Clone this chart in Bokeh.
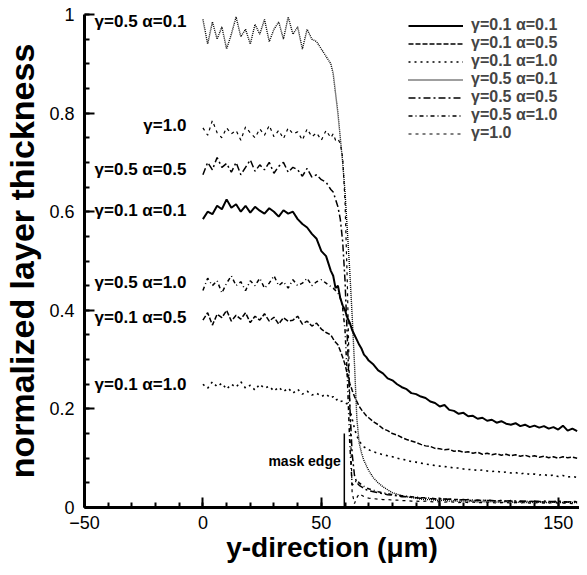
from bokeh.plotting import figure
from bokeh.models import (Range1d, SingleIntervalTicker, Legend, LegendItem,
                          CustomJSTickFormatter, Label)
from bokeh.core.properties import value
from bokeh.embed import file_html
from bokeh.resources import INLINE

# ---------------- data ----------------
X_PLATEAU = [0, 2, 4, 6, 8, 10, 12, 14, 16, 18, 20, 22, 24, 26, 28, 30, 32, 34,
             36, 38, 40, 42, 44, 46, 48, 50, 52, 54]
X_EDGE = [55, 56, 57, 58, 59, 60, 61, 62, 63, 64, 65, 66, 67, 68, 69, 70]
X_TAIL = [72, 74, 76, 78, 80, 82, 84, 86, 88, 90,
          92, 94, 96, 98, 100, 102, 104, 106, 108, 110,
          112, 114, 116, 118, 120, 122, 124, 126, 128, 130,
          132, 134, 136, 138, 140, 142, 144, 146, 148, 150,
          152, 154, 156, 158]

# gamma=0.1 alpha=0.1
g01_a01 = ([0.585, 0.60, 0.595, 0.612, 0.605, 0.625, 0.608, 0.615, 0.60, 0.612,
            0.598, 0.61, 0.602, 0.596, 0.607, 0.60, 0.59, 0.603, 0.596, 0.60,
            0.585, 0.575, 0.568, 0.555, 0.545, 0.52, 0.51, 0.48]
           + [0.47, 0.445, 0.45, 0.425, 0.41, 0.40, 0.385, 0.375, 0.36, 0.35,
              0.34, 0.33, 0.322, 0.31, 0.305, 0.298]
           + [0.29, 0.278, 0.272, 0.262, 0.258, 0.25, 0.244, 0.24, 0.232, 0.23,
              0.225, 0.222, 0.215, 0.212, 0.205, 0.208, 0.198, 0.196, 0.19, 0.192,
              0.185, 0.186, 0.18, 0.182, 0.176, 0.178, 0.172, 0.175, 0.17, 0.168,
              0.171, 0.165, 0.168, 0.163, 0.166, 0.162, 0.165, 0.16, 0.163, 0.158,
              0.166, 0.156, 0.16, 0.155])

# gamma=0.1 alpha=0.5
g01_a05 = ([0.38, 0.395, 0.37, 0.392, 0.385, 0.40, 0.378, 0.39, 0.382, 0.395,
            0.375, 0.388, 0.38, 0.393, 0.378, 0.386, 0.372, 0.385, 0.378, 0.38,
            0.388, 0.372, 0.378, 0.368, 0.374, 0.362, 0.355, 0.35]
           + [0.342, 0.335, 0.33, 0.318, 0.305, 0.29, 0.27, 0.252, 0.238, 0.225,
              0.215, 0.205, 0.198, 0.192, 0.186, 0.182]
           + [0.174, 0.168, 0.16, 0.156, 0.15, 0.147, 0.142, 0.138, 0.135, 0.132,
              0.128, 0.125, 0.124, 0.12, 0.119, 0.117, 0.118, 0.114, 0.115, 0.112,
              0.113, 0.11, 0.112, 0.108, 0.11, 0.107, 0.109, 0.106, 0.108, 0.105,
              0.107, 0.104, 0.106, 0.103, 0.105, 0.102, 0.104, 0.101, 0.103, 0.10,
              0.103, 0.101, 0.102, 0.10])

# gamma=0.1 alpha=1.0
g01_a10 = ([0.25, 0.242, 0.255, 0.245, 0.252, 0.24, 0.25, 0.244, 0.255, 0.242,
            0.248, 0.238, 0.25, 0.242, 0.246, 0.236, 0.244, 0.235, 0.242, 0.232,
            0.24, 0.23, 0.236, 0.228, 0.232, 0.225, 0.23, 0.222]
           + [0.225, 0.218, 0.22, 0.215, 0.216, 0.212, 0.21, 0.20, 0.18, 0.16,
              0.145, 0.135, 0.128, 0.123, 0.12, 0.117]
           + [0.113, 0.11, 0.107, 0.105, 0.103, 0.10, 0.098, 0.096, 0.093, 0.092,
              0.09, 0.088, 0.087, 0.085, 0.084, 0.083, 0.082, 0.08, 0.08, 0.078,
              0.077, 0.077, 0.075, 0.076, 0.074, 0.073, 0.074, 0.071, 0.072, 0.07,
              0.071, 0.068, 0.07, 0.067, 0.068, 0.066, 0.067, 0.064, 0.066, 0.063,
              0.065, 0.062, 0.063, 0.061])

# gamma=0.5 alpha=0.1
g05_a01 = ([0.99, 0.94, 0.985, 0.95, 0.975, 0.93, 0.96, 0.995, 0.955, 0.97,
            0.94, 0.98, 0.96, 0.99, 0.945, 0.97, 0.985, 0.95, 0.995, 0.96,
            0.975, 0.93, 0.97, 0.95, 0.945, 0.93, 0.915, 0.90]
           + [0.88, 0.84, 0.80, 0.75, 0.70, 0.64, 0.56, 0.48, 0.39, 0.29,
              0.18, 0.13, 0.11, 0.095, 0.085, 0.075]
           + [0.06, 0.05, 0.042, 0.036, 0.03, 0.027, 0.024, 0.022, 0.02, 0.019,
              0.017, 0.016, 0.016, 0.015, 0.014, 0.015, 0.013, 0.014, 0.012, 0.013,
              0.012, 0.013, 0.011, 0.012, 0.011, 0.012, 0.011, 0.01, 0.012, 0.011,
              0.01, 0.011, 0.01, 0.011, 0.01, 0.011, 0.01, 0.01, 0.011, 0.01,
              0.01, 0.011, 0.01, 0.01])

# gamma=0.5 alpha=0.5
g05_a05 = ([0.675, 0.70, 0.685, 0.71, 0.69, 0.698, 0.68, 0.70, 0.675, 0.69,
            0.705, 0.682, 0.695, 0.685, 0.70, 0.678, 0.692, 0.70, 0.68, 0.69,
            0.685, 0.672, 0.688, 0.67, 0.675, 0.665, 0.66, 0.645]
           + [0.64, 0.625, 0.61, 0.585, 0.54, 0.46, 0.34, 0.21, 0.11, 0.065,
              0.05, 0.045, 0.042, 0.038, 0.036, 0.034]
           + [0.032, 0.03, 0.028, 0.026, 0.025, 0.024, 0.022, 0.022, 0.021, 0.02,
              0.019, 0.019, 0.018, 0.017, 0.018, 0.016, 0.017, 0.016, 0.015, 0.016,
              0.015, 0.014, 0.015, 0.014, 0.015, 0.014, 0.013, 0.014, 0.013, 0.014,
              0.013, 0.012, 0.013, 0.012, 0.013, 0.012, 0.013, 0.012, 0.012, 0.013,
              0.012, 0.011, 0.012, 0.012])

# gamma=0.5 alpha=1.0
g05_a10 = ([0.44, 0.465, 0.45, 0.46, 0.435, 0.455, 0.47, 0.45, 0.458, 0.44,
            0.46, 0.45, 0.465, 0.445, 0.455, 0.47, 0.45, 0.458, 0.445, 0.462,
            0.45, 0.455, 0.465, 0.45, 0.458, 0.462, 0.455, 0.448]
           + [0.445, 0.44, 0.435, 0.425, 0.405, 0.36, 0.26, 0.13, 0.045, 0.05,
              0.055, 0.05, 0.046, 0.043, 0.04, 0.038]
           + [0.035, 0.032, 0.03, 0.028, 0.026, 0.025, 0.024, 0.023, 0.022, 0.021,
              0.02, 0.02, 0.019, 0.018, 0.018, 0.017, 0.017, 0.016, 0.016, 0.015,
              0.016, 0.015, 0.014, 0.015, 0.014, 0.014, 0.013, 0.014, 0.013, 0.013,
              0.012, 0.013, 0.012, 0.013, 0.012, 0.012, 0.011, 0.012, 0.011, 0.012,
              0.011, 0.011, 0.012, 0.011])

# gamma=1.0
g10 = ([0.77, 0.755, 0.785, 0.76, 0.75, 0.77, 0.758, 0.765, 0.745, 0.772,
        0.76, 0.75, 0.768, 0.755, 0.775, 0.752, 0.765, 0.748, 0.77, 0.758,
        0.762, 0.745, 0.768, 0.752, 0.76, 0.745, 0.765, 0.75]
       + [0.758, 0.745, 0.748, 0.738, 0.71, 0.62, 0.45, 0.22, 0.03, 0.008,
          0.02, 0.028, 0.025, 0.022, 0.02, 0.019]
       + [0.018, 0.017, 0.016, 0.016, 0.015, 0.015, 0.014, 0.014, 0.013, 0.013,
          0.012, 0.013, 0.012, 0.011, 0.012, 0.011, 0.012, 0.011, 0.01, 0.011,
          0.01, 0.011, 0.01, 0.01, 0.011, 0.01, 0.009, 0.01, 0.01, 0.009,
          0.01, 0.009, 0.01, 0.009, 0.009, 0.01, 0.009, 0.009, 0.01, 0.009,
          0.009, 0.009, 0.008, 0.009])

SERIES_LABELS = ["γ=0.1 α=0.1", "γ=0.1 α=0.5", "γ=0.1 α=1.0", "γ=0.5 α=0.1",
                 "γ=0.5 α=0.5", "γ=0.5 α=1.0", "γ=1.0"]
SERIES_VALUES = [g01_a01, g01_a05, g01_a10, g05_a01, g05_a05, g05_a10, g10]

# in-plot curve labels (at the start of each curve)
CURVE_LABELS = ["γ=0.5 α=0.1", "γ=1.0", "γ=0.5 α=0.5", "γ=0.1 α=0.1",
                "γ=0.5 α=1.0", "γ=0.1 α=0.5", "γ=0.1 α=1.0"]
CURVE_LABEL_Y = [0.985, 0.774, 0.685, 0.602, 0.457, 0.386, 0.25]

MASK_EDGE_X = 59.7
MASK_EDGE_TOP = 0.15

X_TICK_INTERVAL = 50
Y_TICK_INTERVAL = 0.2

# ---------------- styles ----------------
DASHES = ["solid", "5 2", "2 4", "1 1", "7 3 2 3", "4 3 1 3", "3 4"]
WIDTHS = [2.0, 1.5, 1.6, 1.4, 1.5, 1.5, 1.2]
FONT = "Liberation Sans"

xs = X_PLATEAU + X_EDGE + X_TAIL

p = figure(width=579, height=567, output_backend="svg", toolbar_location=None,
           x_range=Range1d(-50, 159), y_range=Range1d(0, 1),
           min_border_left=83, min_border_right=0, min_border_top=14,
           min_border_bottom=60)
p.outline_line_color = None
p.xgrid.visible = False
p.ygrid.visible = False
p.background_fill_color = "white"

renderers = []
for ys, dash, w in zip(SERIES_VALUES, DASHES, WIDTHS):
    r = p.line(xs, ys, line_color="black", line_width=w, line_dash=dash)
    renderers.append(r)

# mask edge marker
p.segment(x0=[MASK_EDGE_X], y0=[0], x1=[MASK_EDGE_X], y1=[MASK_EDGE_TOP],
          line_color="black", line_width=1.5)
p.add_layout(Label(x=MASK_EDGE_X - 1.5, y=0.095, text="mask edge",
                   text_align="right", text_baseline="middle",
                   text_font=FONT, text_font_style="bold",
                   text_font_size="14px", text_color="black"))

# curve labels
p.text(x=[-7] * len(CURVE_LABELS), y=CURVE_LABEL_Y, text=CURVE_LABELS,
       text_align="right", text_baseline="middle",
       text_font=value(FONT), text_font_style="bold",
       text_font_size="17px", text_color="black")

# axes
for ax in (p.xaxis[0], p.yaxis[0]):
    ax.axis_line_width = 3
    ax.major_tick_in = 10
    ax.major_tick_out = 0
    ax.minor_tick_in = 5
    ax.minor_tick_out = 0
    ax.major_tick_line_width = 2
    ax.minor_tick_line_width = 2
    ax.major_label_text_font = FONT
    ax.major_label_text_font_size = "18px"
    ax.major_label_text_color = "black"
    ax.axis_label_text_font = FONT
    ax.axis_label_text_font_style = "bold"
    ax.axis_label_text_color = "black"

p.xaxis.ticker = SingleIntervalTicker(interval=X_TICK_INTERVAL, num_minor_ticks=5)
p.yaxis.ticker = SingleIntervalTicker(interval=Y_TICK_INTERVAL, num_minor_ticks=4)
p.yaxis.formatter = CustomJSTickFormatter(code="return Number(tick.toFixed(2)).toString();")
p.xaxis.axis_label = "y-direction (μm)"
p.yaxis.axis_label = "normalized layer thickness"
p.xaxis.axis_label_text_font_size = "28px"
p.yaxis.axis_label_text_font_size = "34px"
p.xaxis.major_label_standoff = 8
p.xaxis.axis_label_standoff = 0
p.yaxis.major_label_standoff = 10
p.yaxis.axis_label_standoff = 5

legend = Legend(items=[LegendItem(label=l, renderers=[r])
                       for l, r in zip(SERIES_LABELS, renderers)],
                location=(324, 365), orientation="vertical",
                border_line_color=None, background_fill_alpha=0,
                label_text_font=FONT, label_text_font_style="bold",
                label_text_font_size="16px", glyph_width=55, glyph_height=15,
                label_height=15, spacing=0, padding=0, margin=0,
                label_standoff=8)
p.add_layout(legend)

open("out.html", "w").write(file_html(p, INLINE))
